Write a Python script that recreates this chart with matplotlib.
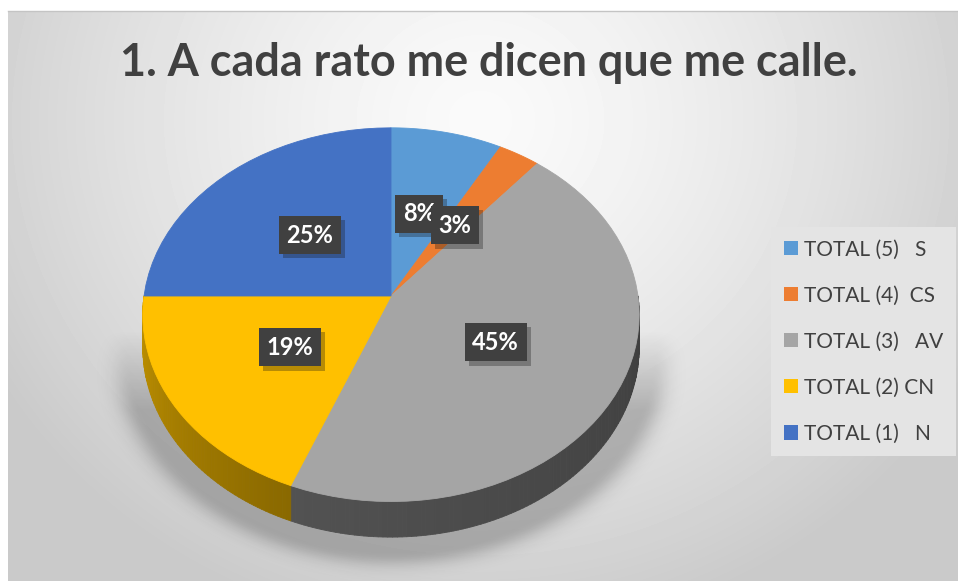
import numpy as np
import matplotlib
matplotlib.use("Agg")
import matplotlib.pyplot as plt
import matplotlib.patches as mpatches
import matplotlib.patheffects as pe
from matplotlib.path import Path
from matplotlib.transforms import Transform
from matplotlib.collections import PolyCollection
from matplotlib.colors import to_rgb

plt.rcParams["font.family"] = ["Lato", "DejaVu Sans"]

W, H = 958, 581

title = "1. A cada rato me dicen que me calle."
categories = ["TOTAL (5)   S", "TOTAL (4)  CS", "TOTAL (3)   AV", "TOTAL (2) CN", "TOTAL (1)   N"]
shares = [8, 3, 45, 19, 25]
colors = ["#5B9BD5", "#ED7D31", "#A5A5A5", "#FFC000", "#4472C4"]
side_start = ["#3f6f99", "#a85820", "#525252", "#c29300", "#30518c"]
side_end = ["#3a668d", "#9c521e", "#3e3e3e", "#8a6900", "#2c4b82"]

# tilted disc (pixel units, image y grows downwards)
CX, CY = 391, 296
A0, K, P = 247, 185, 0.10
DEPTH = 32


class Tilt(Transform):
    """maps the unit pie disc onto a tilted disc seen in perspective"""
    input_dims = output_dims = 2
    is_separable = False
    has_inverse = False

    def __init__(self, z=0.0):
        super().__init__()
        self.z = z

    def transform_non_affine(self, values):
        values = np.asarray(values, dtype=float)
        u, v = values[:, 0], values[:, 1]
        s = 1.0 / (1.0 + P * v)
        x = CX + A0 * u * s
        y_img = CY - K * v * s + DEPTH * self.z * s
        return np.column_stack([x, H - y_img])

    def transform_path_non_affine(self, path):
        out = []
        for seg, code in path.iter_bezier():
            if code == Path.MOVETO:
                out.append(seg.control_points[:1])
            else:
                out.append(seg(np.linspace(0, 1, 14)[1:]))
        pts = np.concatenate(out)
        return Path(self.transform_non_affine(pts), closed=True)


fig = plt.figure(figsize=(W / 100, H / 100), dpi=100)
fig.patch.set_facecolor("white")
ax = fig.add_axes([0, 0, 1, 1])

# background radial gradient
yy, xx = np.mgrid[11:H, 8:W].astype(float)
r = np.sqrt(((xx - 480) / 560) ** 2 + ((yy - 120) / 520) ** 2)
bg = 0.98 - 0.19 * np.clip(r, 0, 1.0) ** 1.4
ax.imshow(bg, extent=(8, W, 0, H - 11), origin="upper", cmap="gray", vmin=0, vmax=1,
          aspect="auto", interpolation="bilinear", zorder=0)
ax.plot([8, W], [H - 11, H - 11], color="#c4c4c4", lw=1, zorder=1)

# soft shadow below the pie
yy, xx = np.mgrid[0:H, 0:W].astype(float)
r = np.sqrt(((xx - 391) / 262) ** 2 + ((yy - 352) / 200) ** 2)
alpha = np.where(r > 1, np.exp(-((r - 1) / 0.07) ** 2), 1.0) * 0.22
alpha *= np.clip((yy - 330) / 80, 0, 1)
shadow = np.zeros((H, W, 4))
shadow[..., 3] = alpha
ax.imshow(shadow, extent=(0, W, 0, H), origin="upper", aspect="auto", zorder=1)

wedges, texts, autotexts = ax.pie(
    shares, colors=colors, startangle=90, counterclock=False,
    autopct="%.0f%%", pctdistance=0.48, wedgeprops=dict(linewidth=0.6))

for w, c in zip(wedges, colors):
    w.set_transform(Tilt(0) + ax.transData)
    w.set_edgecolor(c)
    w.set_zorder(3)

# side of the disc, only the front half shows
top_t, bot_t = Tilt(0), Tilt(1)
for w, c0, c1 in zip(wedges, side_start, side_end):
    for shift in (-360, 0, 360):
        lo = max(w.theta1 + shift, 180)
        hi = min(w.theta2 + shift, 360)
        if hi <= lo:
            continue
        ang = np.radians(np.linspace(lo, hi, int(hi - lo) + 2))
        rim = np.column_stack([np.cos(ang), np.sin(ang)])
        top = top_t.transform_non_affine(rim)
        bot = bot_t.transform_non_affine(rim)
        polys = [np.array([top[i], top[i + 1], bot[i + 1], bot[i]]) for i in range(len(ang) - 1)]
        mix = np.linspace(0, 1, len(polys))[:, None]
        fc = (1 - mix) * np.array(to_rgb(c0)) + mix * np.array(to_rgb(c1))
        ax.add_collection(PolyCollection(polys, facecolors=fc, edgecolors=fc,
                                         linewidths=0.6, zorder=2))

for t in autotexts:
    t.set_transform(Tilt(0) + ax.transData)
    t.set(color="white", fontsize=17, fontweight="bold", zorder=6)
    t.set_bbox(dict(boxstyle="square,pad=0.32", facecolor="#404040",
                    edgecolor="none", linewidth=0))
    t.get_bbox_patch().set_path_effects([pe.withSimplePatchShadow(offset=(3, -3), alpha=0.3)])

ax.set_aspect("auto")
ax.set_xlim(0, W)
ax.set_ylim(0, H)
ax.axis("off")

handles = [mpatches.Patch(facecolor=c, edgecolor="none") for c in colors]
ax.legend(handles, categories, loc="upper left", bbox_to_anchor=(771 / W, 1 - 227 / H),
          bbox_transform=fig.transFigure, frameon=True, fancybox=False,
          facecolor="#e4e4e4", edgecolor="none", framealpha=1,
          prop=dict(size=15), labelcolor="#404040",
          handlelength=0.68, handleheight=0.68, handletextpad=0.3,
          labelspacing=1.25, borderpad=0.6, borderaxespad=0)

tt = fig.text(489 / W, 1 - 63 / H, title, ha="center", va="center", fontsize=30,
              fontweight="bold", color="#404040")
fig.canvas.draw()
wid = tt.get_window_extent().width
tt.set_fontsize(30 * 738 / wid)

fig.savefig("out.png", dpi=100)
